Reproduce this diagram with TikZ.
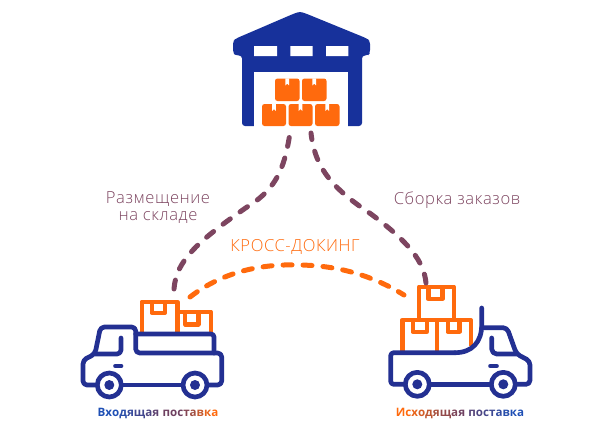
\documentclass[tikz,border=0pt]{standalone}
\usepackage{fontspec}
\setmainfont{Open Sans}
\newfontfamily\labfont[LetterSpace=3.5]{Open Sans Light}
\definecolor{wblue}{HTML}{17319B}
\definecolor{tblue}{HTML}{233092}
\definecolor{oran}{HTML}{FF6A0D}
\definecolor{plum}{HTML}{7D4560}
\definecolor{gb}{HTML}{1E4FB5}
\definecolor{gm}{HTML}{6E4060}
\newcommand{\gl}[2]{\textcolor{#1}{#2}}
\tikzset{
 truck/.style={draw=tblue,line width=4.7pt,line cap=round,line join=round},
 box/.style={draw=oran,line width=4.4pt,line cap=butt,line join=round},
 route/.style={draw=plum,line width=5pt,line cap=round,dash pattern=on 9pt off 12pt},
 cross/.style={draw=oran,line width=5pt,line cap=round,dash pattern=on 9pt off 11pt},
 wheel/.style={truck,circle,minimum size=24pt,inner sep=0pt,fill=white},
 hub/.style={circle,fill=tblue,minimum size=10pt,inner sep=0pt},
 lab/.style={font=\fontsize{16.6}{17}\labfont,text=plum,align=center,inner sep=0pt},
 bottomcap/.style={font=\fontsize{11.6}{12}\selectfont\bfseries\addfontfeature{LetterSpace=2.5},inner sep=0pt},
 pallet/.style={fill=oran,rounded corners=2.5pt}
}
\begin{document}
\begin{tikzpicture}[x=1pt,y=-1pt]
\useasboundingbox (0,0) rectangle (603,429);
% warehouse
\fill[wblue,rounded corners=3pt] (293,14) -- (300,11.5) -- (307,14) -- (367,38.5) -- (370,41) -- (370,53) -- (368,55.5) -- (362,55.5) -- (362,126) -- (254,126) -- (242,126) -- (242,55.5) -- (236,55.5) -- (233,53) -- (233,41) -- (236,38.5) -- cycle;
\fill[white] (254,46) rectangle (277,56) (290.3,46) rectangle (312.7,56) (326,46) rectangle (348.3,56);
\fill[white] (254,72) rectangle (348,127);
% pallets
\foreach \x/\y/\w/\h in {275/78.5/24.5/22.5, 302/78.5/24.5/22.5, 262/104/24/22, 288.5/104/24/22, 315/104/24.5/22}{
  \fill[pallet] (\x,\y) rectangle ++(\w,\h);
  \fill[white] (\x+\w/2-1.9,\y-0.1) -- ++(0,7) arc[start angle=180,end angle=360,radius=1.9] -- ++(0,-7) -- cycle;
}
% left truck
\draw[box] (141.7,331.7) -- (141.7,301.7) -- (177.3,301.7) -- (177.3,331.7);
\draw[box] (151.7,301.7) -- (151.7,312.7) -- (165,312.7) -- (165,301.7);
\draw[box] (177.3,311.7) -- (210.7,311.7) -- (210.7,331.7);
\draw[box] (185,311.7) -- (185,324.3) -- (198.3,324.3) -- (198.3,311.7);
\draw[truck,rounded corners=4pt] (95,385) -- (83,385) -- (83,360) -- (95,354) -- (100.5,327) -- (135.7,327) -- (135.7,353) -- (221.7,353) -- (221.7,385) -- (209,385);
\draw[truck] (123,385) -- (181,385);
\draw[truck,rounded corners=3pt] (135.7,334) -- (214,334) -- (214,353);
\draw[truck,rounded corners=4pt] (95,354) -- (121,354) -- (121,338);
\draw[truck] (115.5,366) -- (121,366);
\node[wheel] (lw1) at (109.3,385) {};
\node[wheel] (lw2) at (195,385) {};
\node[hub] at (lw1) {};
\node[hub] at (lw2) {};
% right truck
\draw[box] (419,318) -- (419,286.7) -- (453.7,286.7) -- (453.7,318);
\draw[box] (428.3,286.7) -- (428.3,299) -- (442.3,299) -- (442.3,286.7);
\draw[box] (402.3,352) -- (402.3,320) -- (470.7,320) -- (470.7,346);
\draw[box] (436.7,320) -- (436.7,352);
\draw[box] (412.7,320) -- (412.7,331.7) -- (426.7,331.7) -- (426.7,320);
\draw[box] (447.7,320) -- (447.7,331.7) -- (459.3,331.7) -- (459.3,320);
\draw[truck,rounded corners=3pt] (405,384.3) -- (390.7,384.3) -- (390.7,352.7) -- (455,352.7);
\draw[truck] (455,352.7) .. controls (472,352.7) and (481.7,342) .. (481.7,325) -- (481.7,308);
\draw[truck,rounded corners=4pt] (481.7,327.7) -- (507,327.7) -- (516.5,354) -- (530,361) -- (530,384.3) -- (517,384.3);
\draw[truck] (431,384.3) -- (490,384.3);
\draw[truck,rounded corners=5pt] (491.7,338) -- (491.7,354) -- (516.5,354);
\draw[truck] (490.5,366) -- (496.5,366);
\node[wheel] (rw1) at (417.3,384.3) {};
\node[wheel] (rw2) at (503.3,384.3) {};
\node[hub] at (rw1) {};
\node[hub] at (rw2) {};
% routes
\coordinate (wl) at (289.5,136);
\coordinate (wr) at (311,133);
\coordinate (lt) at (174,289);
\coordinate (rt) at (426,283);
\coordinate (cl) at (190,297);
\coordinate (cr) at (404,295);
\draw[route] (lt) .. controls (176,262) and (195,243) .. (247,207) .. controls (275,190) and (284,170) .. (wl);
\draw[route] (rt) .. controls (424,262) and (410,243) .. (371,214) .. controls (335,190) and (315,170) .. (wr);
\draw[cross] (cl) .. controls (225,270) and (265,264) .. (297,265) .. controls (340,265) and (375,277) .. (cr);
% labels
\node[lab] (l1) at (158,208) {Размещение\\на складе};
\node[lab] (l2) at (457,200) {Сборка заказов};
\node[lab,text=oran] (l3) at (295,246.5) {КРОСС-ДОКИНГ};
\node[bottomcap,anchor=center] (c1) at (158,413) {\gl{gb}{В}\gl{gb}{х}\gl{gb}{о}\gl{gb!85!gm}{д}\gl{gb!70!gm}{я}\gl{gb!55!gm}{щ}\gl{gb!40!gm}{а}\gl{gb!20!gm}{я} \gl{gm}{п}\gl{gm}{о}\gl{gm}{с}\gl{gm!85!oran}{т}\gl{gm!65!oran}{а}\gl{gm!40!oran}{в}\gl{gm!15!oran}{к}\gl{oran}{а}};
\node[bottomcap,anchor=center] (c2) at (460,413) {\gl{oran}{И}\gl{oran}{с}\gl{oran!85!gm}{х}\gl{oran!70!gm}{о}\gl{oran!55!gm}{д}\gl{oran!40!gm}{я}\gl{oran!25!gm}{щ}\gl{oran!10!gm}{а}\gl{gm}{я} \gl{gm!70!gb}{п}\gl{gm!60!gb}{о}\gl{gm!50!gb}{с}\gl{gm!40!gb}{т}\gl{gm!25!gb}{а}\gl{gm!10!gb}{в}\gl{gb}{к}\gl{gb}{а}};
\end{tikzpicture}
\end{document}
